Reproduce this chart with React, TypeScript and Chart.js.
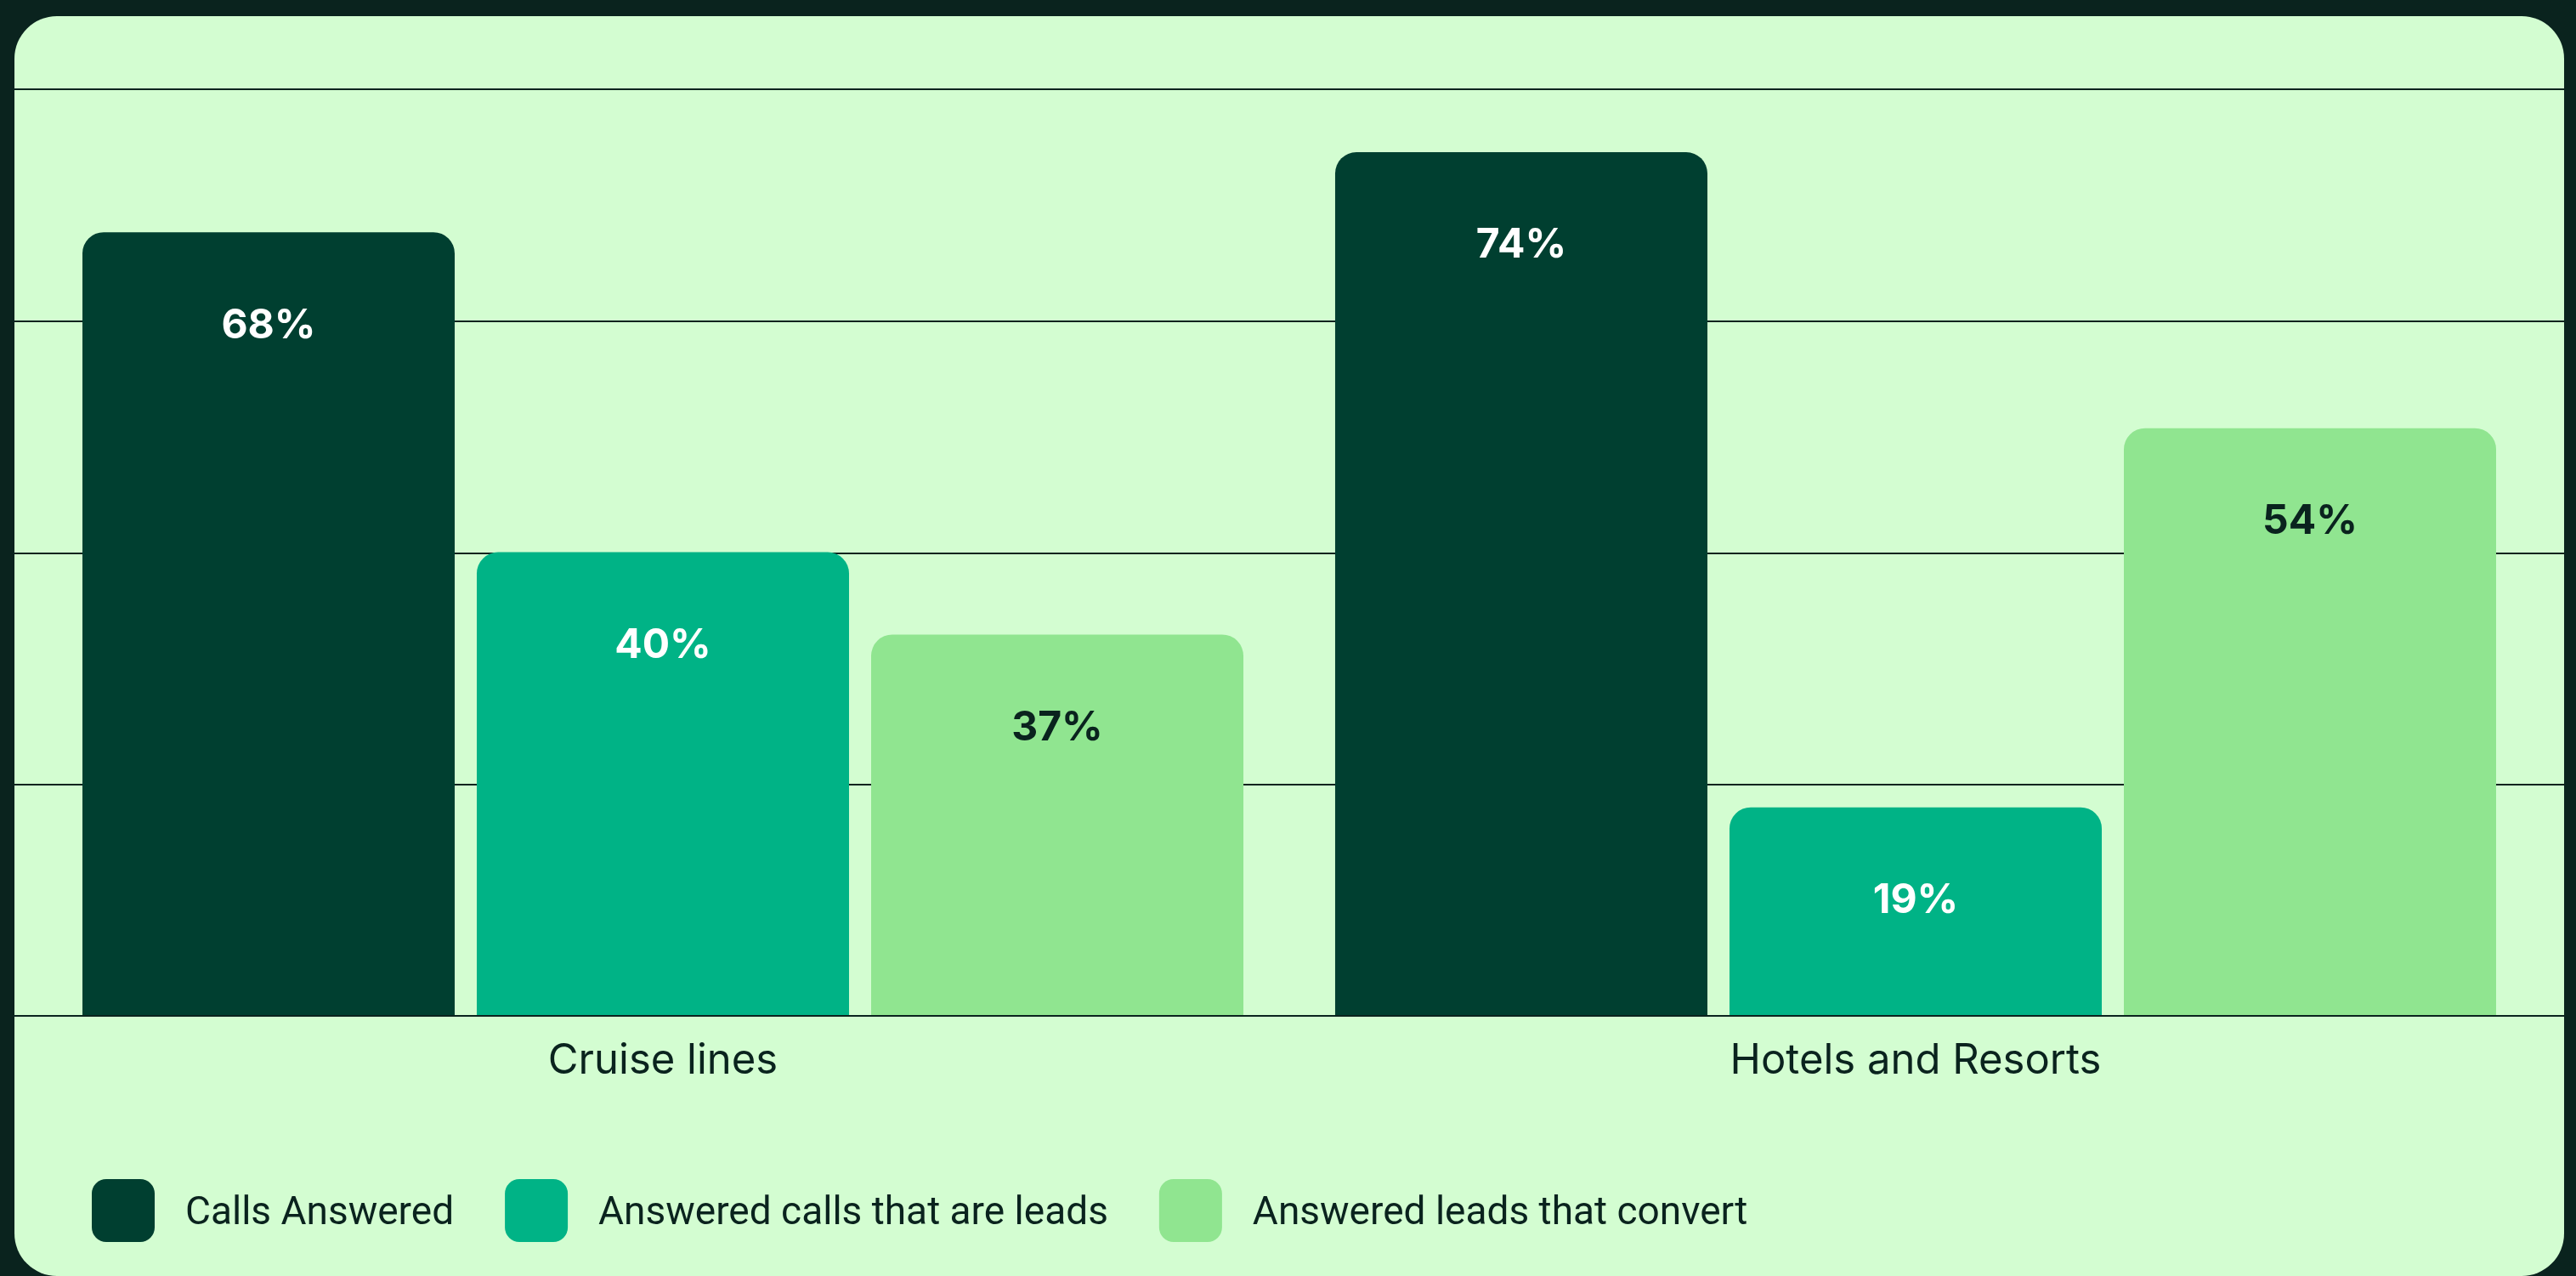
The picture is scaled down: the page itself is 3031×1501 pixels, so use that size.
import React, { useEffect, useRef } from 'react';
import { Chart, registerables } from 'chart.js';

Chart.register(...registerables);

// ---- data ----
const categories = ['Cruise lines', 'Hotels and Resorts'];
const seriesNames = ['Calls Answered', 'Answered calls that are leads', 'Answered leads that convert'];
// bar heights as drawn in the picture (percent)
const callsAnswered = [67.6, 74.5];
const answeredCallsThatAreLeads = [40.0, 18.0];
const answeredLeadsThatConvert = [32.9, 50.7];
// value labels printed on the bars
const callsAnsweredLabels = ['68%', '74%'];
const answeredCallsThatAreLeadsLabels = ['40%', '19%'];
const answeredLeadsThatConvertLabels = ['37%', '54%'];
// y axis
const yMin = 0;
const yMax = 80;
const yStep = 20;

// ---- styles ----
const DARK = '#0A231E';
const CARD = '#D3FDD1';
const SERIES_COLORS = ['#003F30', '#00B386', '#90E590'];
const VALUE_TEXT_COLORS = ['#FFFFFF', '#FFFFFF', '#0A231E'];
const FONT = 'Inter, "Noto Sans", sans-serif';
const LEGEND_FONT = 'Roboto, Inter, sans-serif';

const CANVAS_W = 3000;
const CANVAS_H = 1482;

const decorPlugin = {
  id: 'decor',
  beforeDatasetsDraw(chart: any) {
    const { ctx } = chart;
    const y = chart.scales.y;
    ctx.save();
    ctx.strokeStyle = DARK;
    ctx.lineWidth = 2;
    y.ticks.forEach((t: any) => {
      if (t.value === yMin) return;
      const py = Math.round(y.getPixelForValue(t.value)) + 1;
      ctx.beginPath();
      ctx.moveTo(0, py);
      ctx.lineTo(chart.width, py);
      ctx.stroke();
    });
    ctx.restore();
  },
  afterDatasetsDraw(chart: any) {
    const { ctx } = chart;
    const y = chart.scales.y;
    ctx.save();
    // baseline
    ctx.strokeStyle = DARK;
    ctx.lineWidth = 2;
    const by = Math.round(y.getPixelForValue(yMin));
    ctx.beginPath();
    ctx.moveTo(0, by);
    ctx.lineTo(chart.width, by);
    ctx.stroke();
    // value labels
    ctx.font = `bold 48px ${FONT}`;
    ctx.textAlign = 'center';
    ctx.textBaseline = 'middle';
    chart.data.datasets.forEach((ds: any, i: number) => {
      const meta = chart.getDatasetMeta(i);
      meta.data.forEach((bar: any, j: number) => {
        ctx.fillStyle = ds.valueTextColor;
        ctx.fillText(ds.valueLabels[j], bar.x, bar.y + 110);
      });
    });
    ctx.restore();
  },
  afterDraw(chart: any) {
    const { ctx } = chart;
    ctx.save();
    ctx.font = `46px ${LEGEND_FONT}`;
    ctx.textBaseline = 'middle';
    ctx.textAlign = 'left';
    const box = 74;
    const boxTop = 1368;
    let x = 91;
    chart.data.datasets.forEach((ds: any) => {
      ctx.fillStyle = ds.backgroundColor;
      ctx.beginPath();
      (ctx as any).roundRect(x, boxTop, box, box, 17);
      ctx.fill();
      const tx = x + box + 36;
      ctx.fillStyle = DARK;
      ctx.fillText(ds.label, tx, boxTop + box / 2 + 4);
      x = tx + ctx.measureText(ds.label).width + 60;
    });
    ctx.restore();
  },
};

export default function App() {
  const canvasRef = useRef<HTMLCanvasElement | null>(null);

  useEffect(() => {
    let chart: Chart | null = null;
    let cancelled = false;
    const make = () => {
      if (cancelled || !canvasRef.current) return;
      const values = [callsAnswered, answeredCallsThatAreLeads, answeredLeadsThatConvert];
      const labels = [callsAnsweredLabels, answeredCallsThatAreLeadsLabels, answeredLeadsThatConvertLabels];
      chart = new Chart(canvasRef.current, {
        type: 'bar',
        data: {
          labels: categories,
          datasets: seriesNames.map((name, i) => ({
            label: name,
            data: values[i],
            backgroundColor: SERIES_COLORS[i],
            borderWidth: 0,
            borderRadius: 25,
            borderSkipped: 'start',
            categoryPercentage: 0.9444,
            barPercentage: 0.944,
            valueLabels: labels[i],
            valueTextColor: VALUE_TEXT_COLORS[i],
          })) as any,
        },
        options: {
          animation: false,
          responsive: false,
          devicePixelRatio: 1,
          layout: { padding: { top: 85, left: 26, right: 26, bottom: 199 } },
          plugins: {
            legend: { display: false },
            tooltip: { enabled: false },
          },
          scales: {
            x: {
              grid: { display: false, drawTicks: false },
              border: { display: false },
              ticks: {
                color: DARK,
                padding: 24,
                font: { family: FONT, size: 49, weight: 'normal' },
              },
            },
            y: {
              min: yMin,
              max: yMax,
              grid: { display: false, drawTicks: false },
              border: { display: false },
              ticks: { display: false, stepSize: yStep },
            },
          },
        },
        plugins: [decorPlugin],
      });
    };
    const fonts = (document as any).fonts;
    if (fonts && fonts.load) {
      Promise.all([fonts.load(`48px Inter`), fonts.load(`bold 48px Inter`), fonts.load(`46px Roboto`)])
        .catch(() => null)
        .then(make);
    } else {
      make();
    }
    return () => {
      cancelled = true;
      if (chart) chart.destroy();
    };
  }, []);

  return (
    <div
      style={{
        position: 'fixed',
        left: 0,
        top: 0,
        width: 3031,
        height: 1501,
        background: DARK,
        overflow: 'hidden',
      }}
    >
      <div
        style={{
          position: 'absolute',
          left: 17,
          top: 19,
          width: CANVAS_W,
          height: CANVAS_H,
          borderRadius: 50,
          background: CARD,
          overflow: 'hidden',
        }}
      >
        <canvas
          ref={canvasRef}
          width={CANVAS_W}
          height={CANVAS_H}
          style={{ display: 'block', width: CANVAS_W, height: CANVAS_H }}
        />
      </div>
    </div>
  );
}
